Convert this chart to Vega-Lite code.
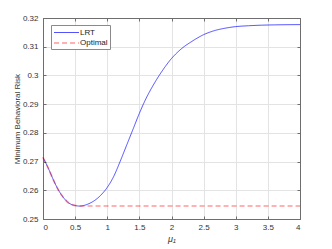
{
  "$schema": "https://vega.github.io/schema/vega-lite/v6.json",
  "width": 257,
  "height": 201,
  "autosize": {"type": "none"},
  "padding": {"left": 43, "top": 18, "right": 32, "bottom": 30},
  "background": "white",
  "config": {
    "font": "Liberation Sans",
    "view": {"stroke": "#6e6e6e", "strokeWidth": 1},
    "axis": {
      "labelFont": "Liberation Sans",
      "titleFont": "Liberation Sans",
      "labelFontSize": 8,
      "labelColor": "#333333",
      "titleColor": "#333333",
      "titleFontWeight": "normal",
      "domainColor": "#6e6e6e",
      "tickColor": "#6e6e6e",
      "gridColor": "#e3e3e3",
      "gridOpacity": 1,
      "gridWidth": 1
    },
    "legend": {
      "labelFont": "Liberation Sans",
      "labelFontSize": 8,
      "labelColor": "#222222"
    }
  },
  "data": {
    "values": [
      {"mu": 0, "risk": 0.2714, "series": "LRT"},
      {"mu": 0.05, "risk": 0.2692, "series": "LRT"},
      {"mu": 0.1, "risk": 0.2668, "series": "LRT"},
      {"mu": 0.15, "risk": 0.2642, "series": "LRT"},
      {"mu": 0.2, "risk": 0.2618, "series": "LRT"},
      {"mu": 0.25, "risk": 0.2597, "series": "LRT"},
      {"mu": 0.3, "risk": 0.258, "series": "LRT"},
      {"mu": 0.35, "risk": 0.2566, "series": "LRT"},
      {"mu": 0.4, "risk": 0.2556, "series": "LRT"},
      {"mu": 0.45, "risk": 0.255, "series": "LRT"},
      {"mu": 0.5, "risk": 0.2547, "series": "LRT"},
      {"mu": 0.57, "risk": 0.2545, "series": "LRT"},
      {"mu": 0.65, "risk": 0.2548, "series": "LRT"},
      {"mu": 0.7, "risk": 0.2552, "series": "LRT"},
      {"mu": 0.8, "risk": 0.2564, "series": "LRT"},
      {"mu": 0.9, "risk": 0.2583, "series": "LRT"},
      {"mu": 1.0, "risk": 0.261, "series": "LRT"},
      {"mu": 1.1, "risk": 0.2648, "series": "LRT"},
      {"mu": 1.2, "risk": 0.27, "series": "LRT"},
      {"mu": 1.3, "risk": 0.2756, "series": "LRT"},
      {"mu": 1.4, "risk": 0.2812, "series": "LRT"},
      {"mu": 1.5, "risk": 0.2868, "series": "LRT"},
      {"mu": 1.6, "risk": 0.2918, "series": "LRT"},
      {"mu": 1.7, "risk": 0.296, "series": "LRT"},
      {"mu": 1.8, "risk": 0.2997, "series": "LRT"},
      {"mu": 1.9, "risk": 0.303, "series": "LRT"},
      {"mu": 2.0, "risk": 0.3059, "series": "LRT"},
      {"mu": 2.1, "risk": 0.3082, "series": "LRT"},
      {"mu": 2.2, "risk": 0.3101, "series": "LRT"},
      {"mu": 2.3, "risk": 0.3116, "series": "LRT"},
      {"mu": 2.4, "risk": 0.313, "series": "LRT"},
      {"mu": 2.5, "risk": 0.3142, "series": "LRT"},
      {"mu": 2.6, "risk": 0.3151, "series": "LRT"},
      {"mu": 2.7, "risk": 0.3158, "series": "LRT"},
      {"mu": 2.8, "risk": 0.3163, "series": "LRT"},
      {"mu": 2.9, "risk": 0.3167, "series": "LRT"},
      {"mu": 3.0, "risk": 0.317, "series": "LRT"},
      {"mu": 3.2, "risk": 0.3173, "series": "LRT"},
      {"mu": 3.4, "risk": 0.3175, "series": "LRT"},
      {"mu": 3.6, "risk": 0.3176, "series": "LRT"},
      {"mu": 4.0, "risk": 0.3177, "series": "LRT"},
      {"mu": 0, "risk": 0.2714, "series": "Optimal"},
      {"mu": 0.05, "risk": 0.2692, "series": "Optimal"},
      {"mu": 0.1, "risk": 0.2668, "series": "Optimal"},
      {"mu": 0.15, "risk": 0.2642, "series": "Optimal"},
      {"mu": 0.2, "risk": 0.2618, "series": "Optimal"},
      {"mu": 0.25, "risk": 0.2597, "series": "Optimal"},
      {"mu": 0.3, "risk": 0.258, "series": "Optimal"},
      {"mu": 0.35, "risk": 0.2566, "series": "Optimal"},
      {"mu": 0.4, "risk": 0.2556, "series": "Optimal"},
      {"mu": 0.45, "risk": 0.255, "series": "Optimal"},
      {"mu": 0.5, "risk": 0.2547, "series": "Optimal"},
      {"mu": 0.57, "risk": 0.2545, "series": "Optimal"},
      {"mu": 4.0, "risk": 0.2545, "series": "Optimal"}
    ]
  },
  "resolve": {"axis": {"x": "independent", "y": "independent"}},
  "layer": [
    {
      "mark": {"type": "line", "interpolate": "monotone"},
      "encoding": {
        "x": {
          "field": "mu", "type": "quantitative",
          "scale": {"domain": [0, 4], "nice": false, "zero": false},
          "axis": {
            "values": [0, 0.5, 1, 1.5, 2, 2.5, 3, 3.5, 4],
            "format": "~g",
            "tickSize": -3,
            "labelPadding": 7,
            "title": "μ₁",
            "titleFontSize": 9,
            "titleFontStyle": "italic",
            "titlePadding": 3
          }
        },
        "y": {
          "field": "risk", "type": "quantitative",
          "scale": {"domain": [0.25, 0.32], "nice": false, "zero": false},
          "axis": {
            "values": [0.25, 0.26, 0.27, 0.28, 0.29, 0.3, 0.31, 0.32],
            "format": "~g",
            "tickSize": -3,
            "labelPadding": 8,
            "title": "Minimum Behavioral Risk",
            "titleFontSize": 8,
            "titleX": -22,
            "titleBaseline": "bottom"
          }
        },
        "color": {
          "field": "series", "type": "nominal",
          "scale": {"domain": ["LRT", "Optimal"], "range": ["#0000ff", "#ff0000"]},
          "legend": {
            "title": null,
            "orient": "none",
            "legendX": 8,
            "legendY": 7,
            "symbolType": "M-1,0H4",
            "symbolSize": 100,
            "symbolStrokeWidth": 1.5,
            "symbolFillColor": "transparent",
            "strokeColor": "#8a8a8a",
            "fillColor": "white",
            "padding": 2,
            "rowPadding": 0,
            "labelOffset": 15
          }
        },
        "strokeDash": {
          "field": "series", "type": "nominal",
          "scale": {"domain": ["LRT", "Optimal"], "range": [[1, 0], [5, 3]]},
          "legend": null
        },
        "opacity": {
          "field": "series", "type": "nominal",
          "scale": {"domain": ["LRT", "Optimal"], "range": [0.85, 0.3]},
          "legend": null
        },
        "strokeWidth": {
          "field": "series", "type": "nominal",
          "scale": {"domain": ["LRT", "Optimal"], "range": [0.8, 2]},
          "legend": null
        }
      }
    },
    {
      "mark": {"type": "point", "opacity": 0},
      "encoding": {
        "x": {
          "field": "mu", "type": "quantitative",
          "scale": {"domain": [0, 4], "nice": false, "zero": false},
          "axis": {
            "orient": "top",
            "values": [0, 0.5, 1, 1.5, 2, 2.5, 3, 3.5, 4],
            "labels": false, "grid": false, "title": null,
            "tickSize": -3
          }
        },
        "y": {
          "field": "risk", "type": "quantitative",
          "scale": {"domain": [0.25, 0.32], "nice": false, "zero": false},
          "axis": {
            "orient": "right",
            "values": [0.25, 0.26, 0.27, 0.28, 0.29, 0.3, 0.31, 0.32],
            "labels": false, "grid": false, "title": null,
            "tickSize": -3
          }
        }
      }
    }
  ]
}
